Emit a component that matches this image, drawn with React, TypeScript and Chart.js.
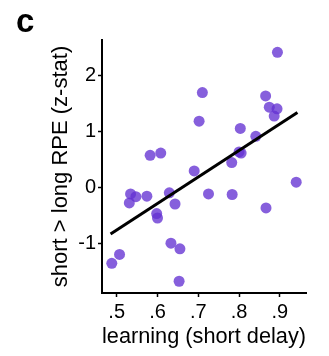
import React, { useEffect, useRef } from "react";
import { Chart, registerables } from "chart.js";

Chart.register(...registerables);

const learning = [
  0.488, 0.507, 0.531, 0.534, 0.547, 0.574, 0.582, 0.608, 0.598, 0.600,
  0.629, 0.643, 0.633, 0.655, 0.653, 0.690, 0.702, 0.710, 0.725, 0.782,
  0.783, 0.803, 0.800, 0.805, 0.841, 0.865, 0.874, 0.893, 0.886, 0.866,
  0.894, 0.940,
];
const zStat = [
  -1.35, -1.19, -0.27, -0.11, -0.16, -0.15, 0.58, 0.62, -0.46, -0.54,
  -0.09, -0.29, -0.99, -1.09, -1.67, 0.30, 1.19, 1.70, -0.11, 0.45,
  -0.12, 1.06, 0.64, 0.62, 0.92, 1.64, 1.44, 1.41, 1.28, -0.36,
  2.42, 0.10,
];
const fitX = [0.485, 0.943];
const fitY = [-0.827, 1.345];
const xTicks = [0.5, 0.6, 0.7, 0.8, 0.9];
const yTicks = [-1, 0, 1, 2];

const FONT = "'Liberation Sans', Arial, Helvetica, sans-serif";

export default function App() {
  const ref = useRef<HTMLCanvasElement | null>(null);

  useEffect(() => {
    if (!ref.current) return;
    const chart = new Chart(ref.current, {
      type: "scatter",
      data: {
        datasets: [
          {
            label: "subjects",
            data: learning.map((x, i) => ({ x, y: zStat[i] })),
            backgroundColor: "rgba(100,50,210,0.78)",
            borderWidth: 0,
            pointRadius: 5.5,
            order: 2,
          },
          {
            type: "line",
            label: "fit",
            data: fitX.map((x, i) => ({ x, y: fitY[i] })),
            borderColor: "#000",
            borderWidth: 3,
            pointRadius: 0,
            fill: false,
            order: 1,
          } as any,
        ],
      },
      options: {
        animation: false,
        responsive: false,
        maintainAspectRatio: false,
        layout: { padding: { left: 0, right: 23, top: 40, bottom: 0 } },
        plugins: { legend: { display: false }, tooltip: { enabled: false } },
        scales: {
          x: {
            type: "linear",
            min: 0.464,
            max: 0.964,
            afterBuildTicks: (s: any) => {
              s.ticks = xTicks.map((v) => ({ value: v }));
            },
            afterFit: (s: any) => {
              s.height = 63;
            },
            grid: {
              display: true,
              drawOnChartArea: false,
              drawTicks: true,
              tickLength: 4,
              tickColor: "#000",
              tickWidth: 1.5,
            },
            border: { display: true, color: "#000", width: 2 },
            ticks: {
              color: "#000",
              padding: 3,
              font: { family: FONT, size: 20 },
              maxRotation: 0,
              callback: (v: any) => Number(v).toFixed(1).replace(/^0/, ""),
            },
            title: {
              display: true,
              text: "learning (short delay)",
              color: "#000",
              font: { family: FONT, size: 22 },
              padding: { top: 0, bottom: 5.8 },
            },
          },
          y: {
            type: "linear",
            min: -1.88,
            max: 2.64,
            afterBuildTicks: (s: any) => {
              s.ticks = yTicks.map((v) => ({ value: v }));
            },
            afterFit: (s: any) => {
              s.width = 102;
            },
            grid: {
              display: true,
              drawOnChartArea: false,
              drawTicks: true,
              tickLength: 4,
              tickColor: "#000",
              tickWidth: 1.5,
            },
            border: { display: true, color: "#000", width: 2 },
            ticks: {
              color: "#000",
              padding: 2,
              font: { family: FONT, size: 20 },
              callback: (v: any) => String(v),
            },
            title: {
              display: true,
              text: "short > long RPE (z-stat)",
              color: "#000",
              font: { family: FONT, size: 22 },
              padding: { top: 48, bottom: 0 },
            },
          },
        },
      },
    });
    return () => chart.destroy();
  }, []);

  return (
    <div
      style={{
        position: "fixed",
        left: 0,
        top: 0,
        width: 329,
        height: 356,
        background: "#fff",
      }}
    >
      <canvas ref={ref} width={329} height={356} style={{ display: "block" }} />
      <div
        style={{
          position: "absolute",
          left: 16,
          top: 1,
          fontFamily: FONT,
          fontWeight: "bold",
          fontSize: 33,
          lineHeight: "40px",
          color: "#000",
        }}
      >
        c
      </div>
    </div>
  );
}
